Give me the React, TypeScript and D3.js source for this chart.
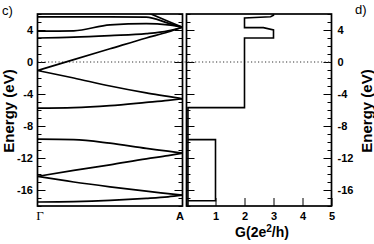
import { useEffect, useRef } from "react";
import * as d3 from "d3";

const W = 374;
const H = 244;

// band structure, sampled along Γ -> A
const kPoints = [0, 0.25, 0.5, 0.75, 0.9, 1];
const kLabels = ["Γ", "A"];
const band1 = [5.65, 5.65, 5.65, 5.62, 4.86, 4.35];
const band2 = [null, null, null, 6.25, 5.1, 4.35];
const band3 = [3.85, 3.9, 4.65, 4.8, 4.65, 4.35];
const band4 = [3.0, 3.1, 3.3, 3.55, 3.9, 4.35];
const band5 = [-1.06, 0.3, 1.65, 3.0, 3.75, 4.35];
const band6 = [-1.06, -2.0, -3.0, -3.86, -4.3, -4.6];
const band7 = [-5.77, -5.7, -5.45, -5.05, -4.8, -4.6];
const band8 = [-9.65, -9.7, -10.15, -10.8, -11.15, -11.4];
const band9 = [-14.3, -13.55, -12.85, -12.1, -11.7, -11.4];
const band10 = [-14.3, -15.0, -15.6, -16.15, -16.45, -16.65];
const band11 = [-17.5, -17.45, -17.3, -17.05, -16.85, -16.65];
const bands = [band1, band2, band3, band4, band5, band6, band7, band8, band9, band10, band11];

// conductance steps G(E)
const condG = [0.05, 0.05, 1, 1, 0.05, 0.05, 0.05, 2, 2, 3, 3, 2.65, 2, 2, 2.9, 3, 3];
const condE = [-18, -17.35, -17.35, -9.7, -9.7, -17.35, -5.7, -5.7, 3.0, 3.0, 4.0, 4.3, 4.3, 5.5, 5.65, 5.85, 6.3];

const energyTicks = [-16, -12, -8, -4, 0, 4];
const gTicks = [1, 2, 3, 4, 5];

export default function App() {
	const svgRef = useRef<SVGSVGElement>(null);

	useEffect(() => {
		if (!svgRef.current) return;
		const svg = d3.select(svgRef.current);
		svg.selectAll("*").remove();

		const top = 14;
		const bottom = 206;
		const left1 = 37.5;
		const right1 = 182.5;
		const left2 = 186.5;
		const right2 = 331.5;

		const y = d3.scaleLinear().domain([-18, 6]).range([bottom, top]);
		const xk = d3.scaleLinear().domain([0, 1]).range([left1, right1]);
		const xg = d3.scaleLinear().domain([0, 5]).range([left2, right2]);

		const minorTicks = d3.range(-18, 7).filter((v) => v % 4 !== 0);

		const styleAxis = (g: any) =>
			g
				.call((g: any) => g.select(".domain").remove())
				.call((g: any) =>
					g.selectAll(".tick line").attr("stroke", "#000").attr("stroke-width", 1)
				)
				.call((g: any) =>
					g
						.selectAll(".tick text")
						.attr("fill", "#000")
						.attr("font-size", "11px")
						.attr("font-weight", "bold")
						.attr("font-family", "'Liberation Sans', Arial, sans-serif")
				);

		const defs = svg.append("defs");
		defs
			.append("clipPath")
			.attr("id", "bandClip")
			.append("rect")
			.attr("x", left1)
			.attr("y", top)
			.attr("width", right1 - left1)
			.attr("height", bottom - top);
		defs
			.append("clipPath")
			.attr("id", "condClip")
			.append("rect")
			.attr("x", left2)
			.attr("y", top)
			.attr("width", right2 - left2)
			.attr("height", bottom - top);

		// ticks on the four vertical edges
		const vAxes: [number, "left" | "right", boolean][] = [
			[left1, "left", true],
			[right1, "right", false],
			[left2, "left", false],
			[right2, "right", true],
		];
		for (const [x, side, labels] of vAxes) {
			const mk = side === "left" ? d3.axisLeft(y) : d3.axisRight(y);
			svg
				.append("g")
				.attr("transform", `translate(${x},0)`)
				.call(mk.tickValues(minorTicks).tickSize(-4).tickFormat(() => ""))
				.call(styleAxis);
			const mj = side === "left" ? d3.axisLeft(y) : d3.axisRight(y);
			svg
				.append("g")
				.attr("transform", `translate(${x},0)`)
				.call(
					mj
						.tickValues(energyTicks)
						.tickSize(-8)
						.tickPadding(side === "left" ? 4.5 : 6)
						.tickFormat((d) => (labels ? String(d) : ""))
				)
				.call(styleAxis);
		}

		svg
			.append("g")
			.attr("transform", `translate(0,${bottom})`)
			.call(d3.axisBottom(xg).tickValues(gTicks).tickSize(-8).tickPadding(6).tickFormat((d) => String(d)))
			.call(styleAxis);

		// k-point labels
		svg
			.append("g")
			.selectAll("text")
			.data(kLabels)
			.join("text")
			.attr("x", (_, i) => xk(i) + (i === 0 ? 2.5 : -2.5))
			.attr("y", 220)
			.attr("text-anchor", "middle")
			.attr("font-size", (_, i) => (i === 0 ? "13px" : "11px"))
			.attr("font-weight", (_, i) => (i === 0 ? "normal" : "bold"))
			.attr("font-family", (_, i) =>
				i === 0 ? "'Liberation Serif', 'Times New Roman', serif" : "'Liberation Sans', Arial, sans-serif"
			)
			.text((d) => d);

		// Fermi level
		svg
			.append("line")
			.attr("x1", left1)
			.attr("x2", right2)
			.attr("y1", y(0))
			.attr("y2", y(0))
			.attr("stroke", "#333")
			.attr("stroke-width", 1)
			.attr("stroke-dasharray", "1.2,2.3");

		const bandLine = d3
			.line<number | null>()
			.defined((d) => d !== null)
			.x((_, i) => xk(kPoints[i]))
			.y((d) => y(d as number))
			.curve(d3.curveMonotoneX);

		svg
			.append("g")
			.attr("clip-path", "url(#bandClip)")
			.selectAll("path")
			.data(bands)
			.join("path")
			.attr("fill", "none")
			.attr("stroke", "#000")
			.attr("stroke-width", 1.7)
			.attr("d", bandLine);

		const condLine = d3
			.line<number>()
			.x((d) => xg(d))
			.y((_, i) => y(condE[i]));

		svg
			.append("path")
			.datum(condG)
			.attr("clip-path", "url(#condClip)")
			.attr("fill", "none")
			.attr("stroke", "#000")
			.attr("stroke-width", 1.6)
			.attr("stroke-linejoin", "miter")
			.attr("d", condLine);

		// frames
		for (const [a, b] of [
			[left1, right1],
			[left2, right2],
		]) {
			svg
				.append("rect")
				.attr("x", a)
				.attr("y", top)
				.attr("width", b - a)
				.attr("height", bottom - top)
				.attr("fill", "none")
				.attr("stroke", "#000")
				.attr("stroke-width", 1.7);
		}

		// titles
		const font = "'Liberation Sans', Arial, sans-serif";
		for (const x of [14, 372]) {
			svg
				.append("text")
				.attr("transform", `translate(${x},${(top + bottom) / 2 + 1}) rotate(-90)`)
				.attr("text-anchor", "middle")
				.attr("font-size", "15px")
				.attr("font-weight", "bold")
				.attr("font-family", font)
				.text("Energy (eV)");
		}

		const gTitle = svg
			.append("text")
			.attr("x", (left2 + right2) / 2 + 3)
			.attr("y", 237)
			.attr("text-anchor", "middle")
			.attr("font-size", "14px")
			.attr("font-weight", "bold")
			.attr("font-family", font);
		gTitle.append("tspan").text("G(2e");
		gTitle.append("tspan").attr("dy", -5).attr("font-size", "10px").text("2");
		gTitle.append("tspan").attr("dy", 5).text("/h)");

		svg
			.append("text")
			.attr("x", 2)
			.attr("y", 15)
			.attr("font-size", "13px")
			.attr("font-family", font)
			.text("c)");
		svg
			.append("text")
			.attr("x", 355)
			.attr("y", 14)
			.attr("font-size", "13px")
			.attr("font-family", font)
			.text("d)");
	}, []);

	return (
		<svg
			ref={svgRef}
			width={W}
			height={H}
			style={{ position: "absolute", left: 0, top: 0, background: "#fff" }}
		/>
	);
}
